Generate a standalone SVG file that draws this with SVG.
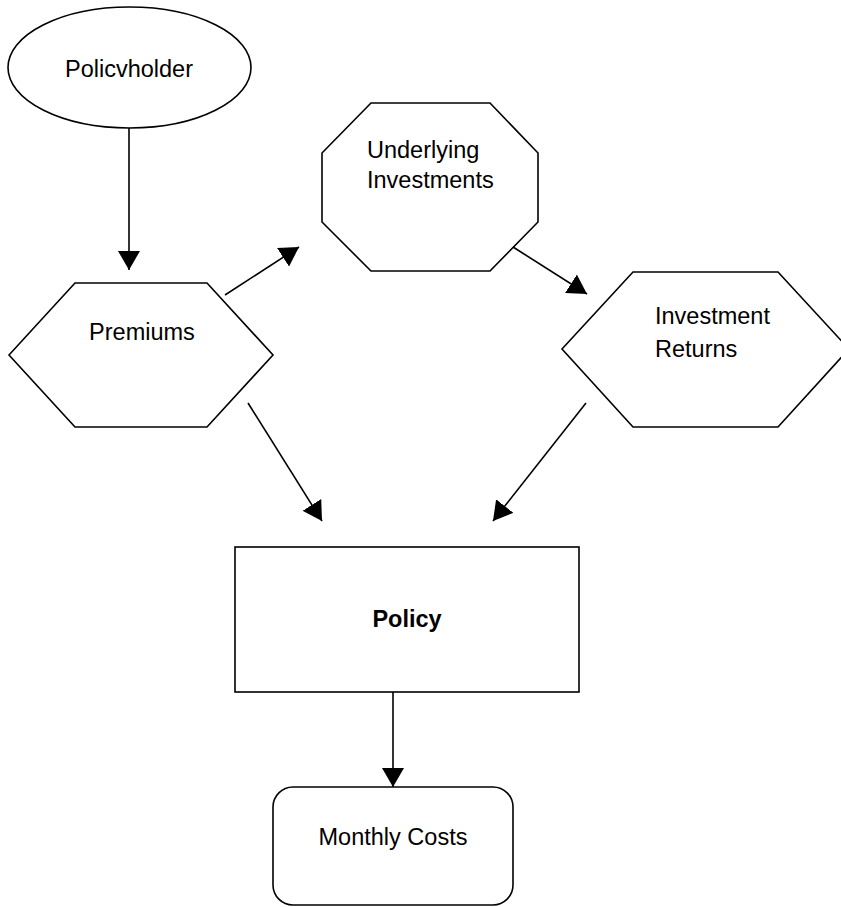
<svg xmlns="http://www.w3.org/2000/svg" width="841" height="907" viewBox="0 0 841 907">
<style>
.s{fill:#fff;stroke:#000;stroke-width:1.6}
.t{font-family:"Liberation Sans",Arial,sans-serif;font-size:23.5px;fill:#000}
.c{stroke:#000;stroke-width:1.6;fill:none}
</style>
<defs>
<marker id="ah" markerUnits="userSpaceOnUse" markerWidth="20" markerHeight="22" refX="19" refY="11" orient="auto" viewBox="0 0 20 22">
<path d="M0,0 L19,11 L0,22 z" fill="#000"/>
</marker>
</defs>
<rect width="841" height="907" fill="#fff"/>
<g id="policyholder">
<ellipse class="s" cx="129.5" cy="67.5" rx="121.5" ry="60.5"/>
<text class="t" x="129" y="77" text-anchor="middle">Policvholder</text>
</g>
<g id="underlying">
<polygon class="s" points="371,103 490,103 538,153 538,222 490,271 371,271 322,222 322,153"/>
<text class="t" x="367" y="158">Underlying</text>
<text class="t" x="367" y="188">Investments</text>
</g>
<g id="premiums">
<polygon class="s" points="9,355 75,283 207,283 273,355 207,427 75,427"/>
<text class="t" x="142" y="340" text-anchor="middle">Premiums</text>
</g>
<g id="returns">
<polygon class="s" points="562,349 633,272 778,272 849,349 778,427 633,427"/>
<text class="t" x="655" y="324">Investment</text>
<text class="t" x="655" y="357">Returns</text>
</g>
<g id="policy">
<rect class="s" x="235" y="547" width="344" height="145"/>
<text class="t" x="407" y="627" text-anchor="middle" font-weight="bold" font-size="26">Policy</text>
</g>
<g id="monthly">
<rect class="s" x="273" y="787" width="240" height="118" rx="20" ry="20"/>
<text class="t" x="393" y="845" text-anchor="middle">Monthly Costs</text>
</g>
<g id="connectors">
<line class="c" x1="129" y1="128" x2="129" y2="270" marker-end="url(#ah)"/>
<line class="c" x1="225" y1="295" x2="299" y2="247" marker-end="url(#ah)"/>
<line class="c" x1="513" y1="247" x2="587" y2="294" marker-end="url(#ah)"/>
<line class="c" x1="248" y1="403" x2="322" y2="521" marker-end="url(#ah)"/>
<line class="c" x1="586" y1="403" x2="493" y2="521" marker-end="url(#ah)"/>
<line class="c" x1="393" y1="692" x2="393" y2="787" marker-end="url(#ah)"/>
</g>
</svg>
